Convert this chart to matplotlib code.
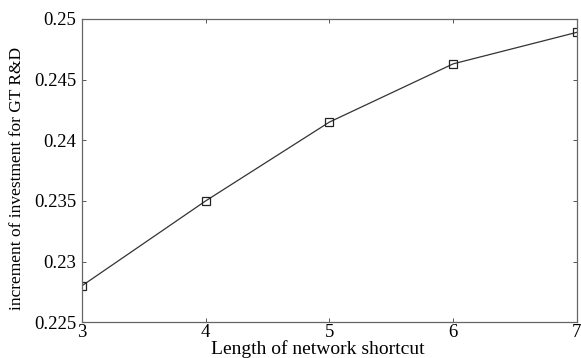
import numpy as np
import matplotlib.pyplot as plt

# Length of network shortcut vs increment of investment
shortcut = [3, 4, 5, 6, 7]
increment = [0.2280, 0.2350, 0.2415, 0.2463, 0.2489]
yticks = [0.225, 0.23, 0.235, 0.24, 0.245, 0.25]
ytick_labels = ['0.225', '0.23', '0.235', '0.24', '0.245', '0.25']

serif = ['Liberation Serif', 'DejaVu Serif']
plt.rcParams['font.family'] = serif

fig = plt.figure(figsize=(5.81, 3.58), dpi=100)
ax = fig.add_axes([0.141, 0.100, 0.852, 0.847])

ax.plot(shortcut, increment, color='#333333', linewidth=0.9,
        marker='s', markersize=5.5, markerfacecolor='none',
        markeredgecolor='#222222', markeredgewidth=0.9)

ax.set_xlim(3, 7)
ax.set_ylim(0.225, 0.25)
ax.set_xticks(shortcut)
ax.set_xticklabels([str(v) for v in shortcut], family=serif, fontsize=13.5)
ax.set_yticks(yticks)
ax.set_yticklabels(ytick_labels, family=serif, fontsize=13.5)

ax.tick_params(direction='in', length=3, width=0.7,
               top=True, right=True, colors='#555555', labelcolor='black')
ax.tick_params(axis='x', pad=1)
ax.tick_params(axis='y', pad=4)
for s in ax.spines.values():
    s.set_color('#666666')
    s.set_linewidth(0.9)

ax.set_xlabel('Length of network shortcut', family=serif, fontsize=14)
ax.set_ylabel('increment of investment for GT R&D', family=serif, fontsize=12.5)
ax.xaxis.set_label_coords(0.477, -0.058)
ax.yaxis.set_label_coords(-0.115, 0.475)

fig.savefig('out.png', dpi=100)
